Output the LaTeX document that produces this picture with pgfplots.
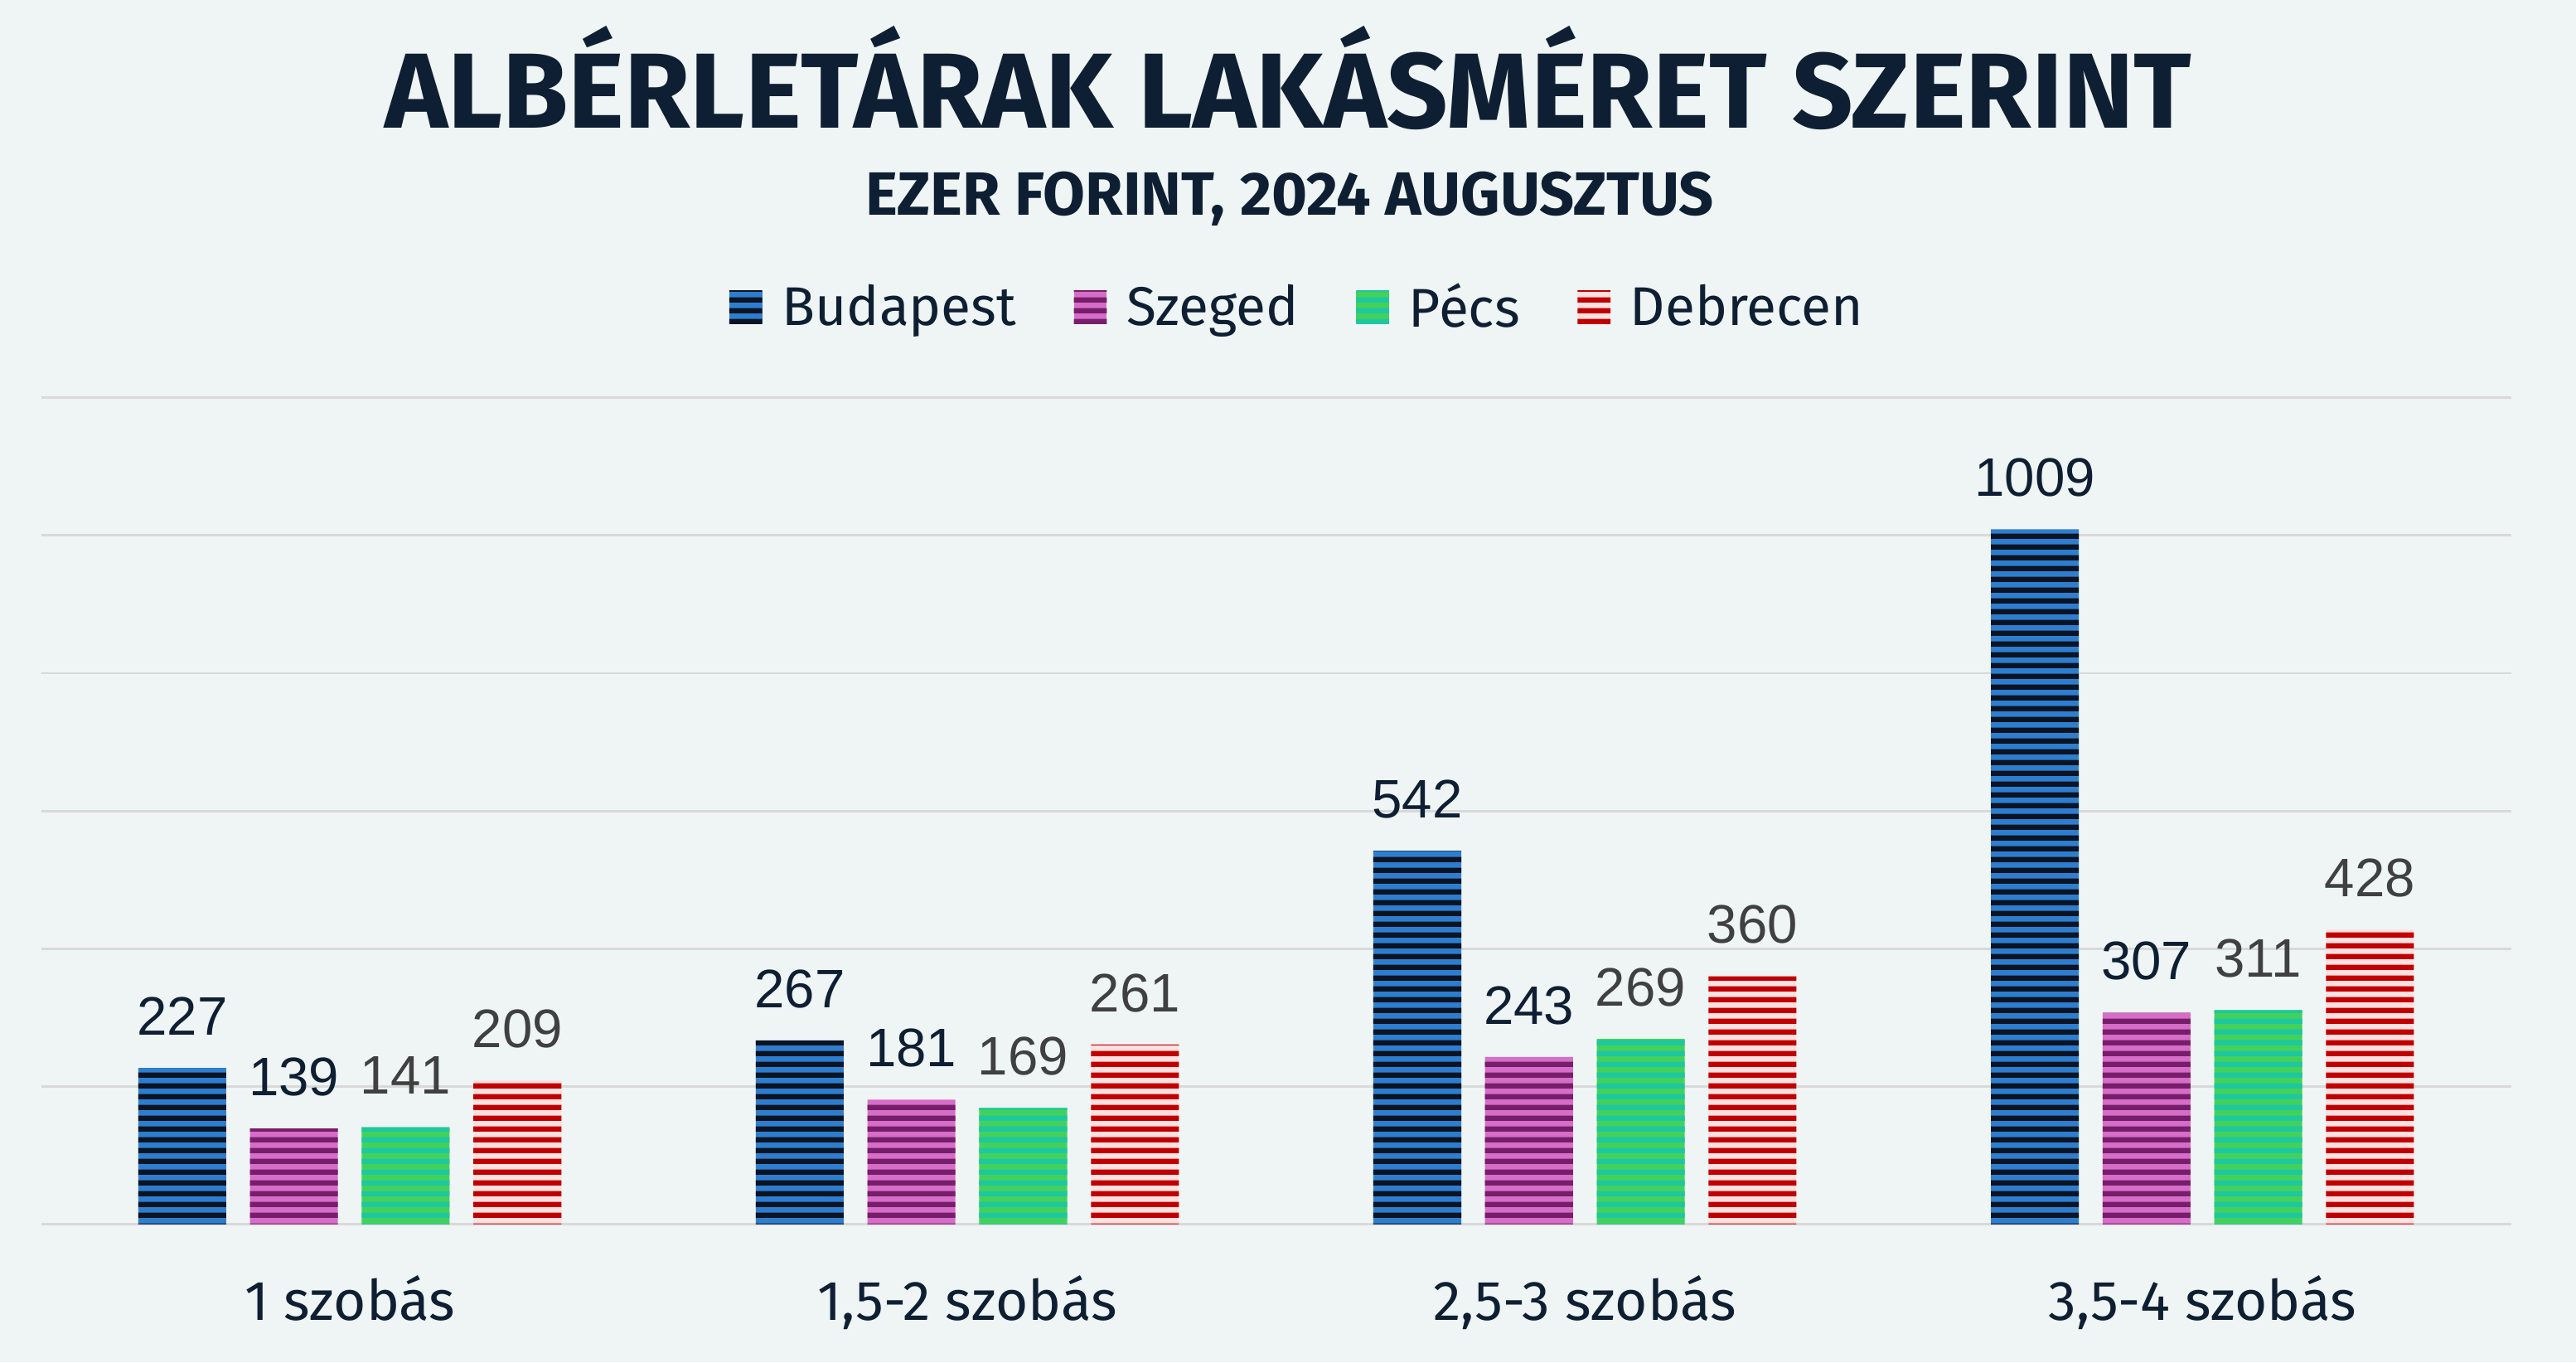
\documentclass[border=0pt]{standalone}
\usepackage{fontspec}
\setmainfont{Fira Sans}
\newfontfamily\numfont{Liberation Sans}
\usepackage{pgfplots}
\pgfplotsset{compat=1.18}
\usetikzlibrary{patterns.meta}

\definecolor{bg}{HTML}{EFF4F4}
\definecolor{navy}{HTML}{0E1F33}
\definecolor{lblgray}{HTML}{404040}
\definecolor{gridc}{HTML}{D9D9D9}
\definecolor{bpA}{HTML}{2E7ED0}
\definecolor{bpB}{HTML}{0A1423}
\definecolor{szA}{HTML}{D66DC8}
\definecolor{szB}{HTML}{771E6A}
\definecolor{pcA}{HTML}{44D15B}
\definecolor{pcB}{HTML}{1DC89F}
\definecolor{dbA}{HTML}{FFE0E0}
\definecolor{dbB}{HTML}{C00000}

\tikzdeclarepattern{
  name=hstripes,
  type=uncolored,
  bottom left={(0pt,0pt)},
  top right={(4pt,3.4pt)},
  tile size={(4pt,3.4pt)},
  code={\fill (-0.1pt,0pt) rectangle (4.1pt,1.7pt);}
}

\begin{document}
\begin{tikzpicture}
\useasboundingbox (0,0) rectangle (784pt,414.5pt);
\fill[bg] (0,0) rectangle (784pt,414.5pt);

\node[anchor=base, text=navy, font=\bfseries\fontsize{32.5}{36}\selectfont] at (392pt,375.5pt) {ALBÉRLETÁRAK LAKÁSMÉRET SZERINT};
\node[anchor=base, text=navy, font=\bfseries\fontsize{18.6}{21}\selectfont] at (392.5pt,349pt) {EZER FORINT, 2024 AUGUSZTUS};

\begin{axis}[
    at={(12.5pt,42pt)}, anchor=south west,
    scale only axis,
    width=751.75pt, height=251.5pt,
    xmin=-0.5, xmax=3.5,
    ymin=0, ymax=1200,
    ybar=7.25pt,
    bar width=26.75pt,
    xtick={0,1,2,3},
    xticklabels={1 szobás,{1,5-2 szobás},{2,5-3 szobás},{3,5-4 szobás}},
    xticklabel style={anchor=base, yshift=-25pt, text=navy, font=\fontsize{17}{20}\selectfont},
    ytick={0,200,...,1200},
    yticklabels={},
    ymajorgrids,
    major grid style={gridc, line width=0.7pt},
    axis line style={draw=none},
    tick style={draw=none},
    /pgf/number format/assume math mode=true,
    /pgf/number format/1000 sep={},
    nodes near coords,
    nodes near coords style={anchor=base, yshift=10pt, font=\numfont\fontsize{16.5}{19}\selectfont},
    legend columns=4,
    legend style={at={(rel axis cs:0.5095,1)}, anchor=center, yshift=27.5pt,
        draw=none, fill=none, text=navy, font=\fontsize{16.6}{20}\selectfont,
        /tikz/every odd column/.append style={column sep=4pt},
        /tikz/every even column/.append style={column sep=15.5pt}},
    legend image code/.code={\path[#1] (0pt,-5pt) rectangle (10pt,5pt);},
]
\addplot[draw=none, fill=bpA, postaction={pattern=hstripes, pattern color=bpB},
    nodes near coords style={text=navy}]
    coordinates {(0,227) (1,267) (2,542) (3,1009)};
\addplot[draw=none, fill=szA, postaction={pattern=hstripes, pattern color=szB},
    nodes near coords style={text=navy}]
    coordinates {(0,139) (1,181) (2,243) (3,307)};
\addplot[draw=none, fill=pcA, postaction={pattern=hstripes, pattern color=pcB},
    nodes near coords style={text=lblgray}]
    coordinates {(0,141) (1,169) (2,269) (3,311)};
\addplot[draw=none, fill=dbA, postaction={pattern=hstripes, pattern color=dbB},
    nodes near coords style={text=lblgray}]
    coordinates {(0,209) (1,261) (2,360) (3,428)};
\legend{Budapest,Szeged,Pécs,Debrecen}
\end{axis}
\end{tikzpicture}
\end{document}
